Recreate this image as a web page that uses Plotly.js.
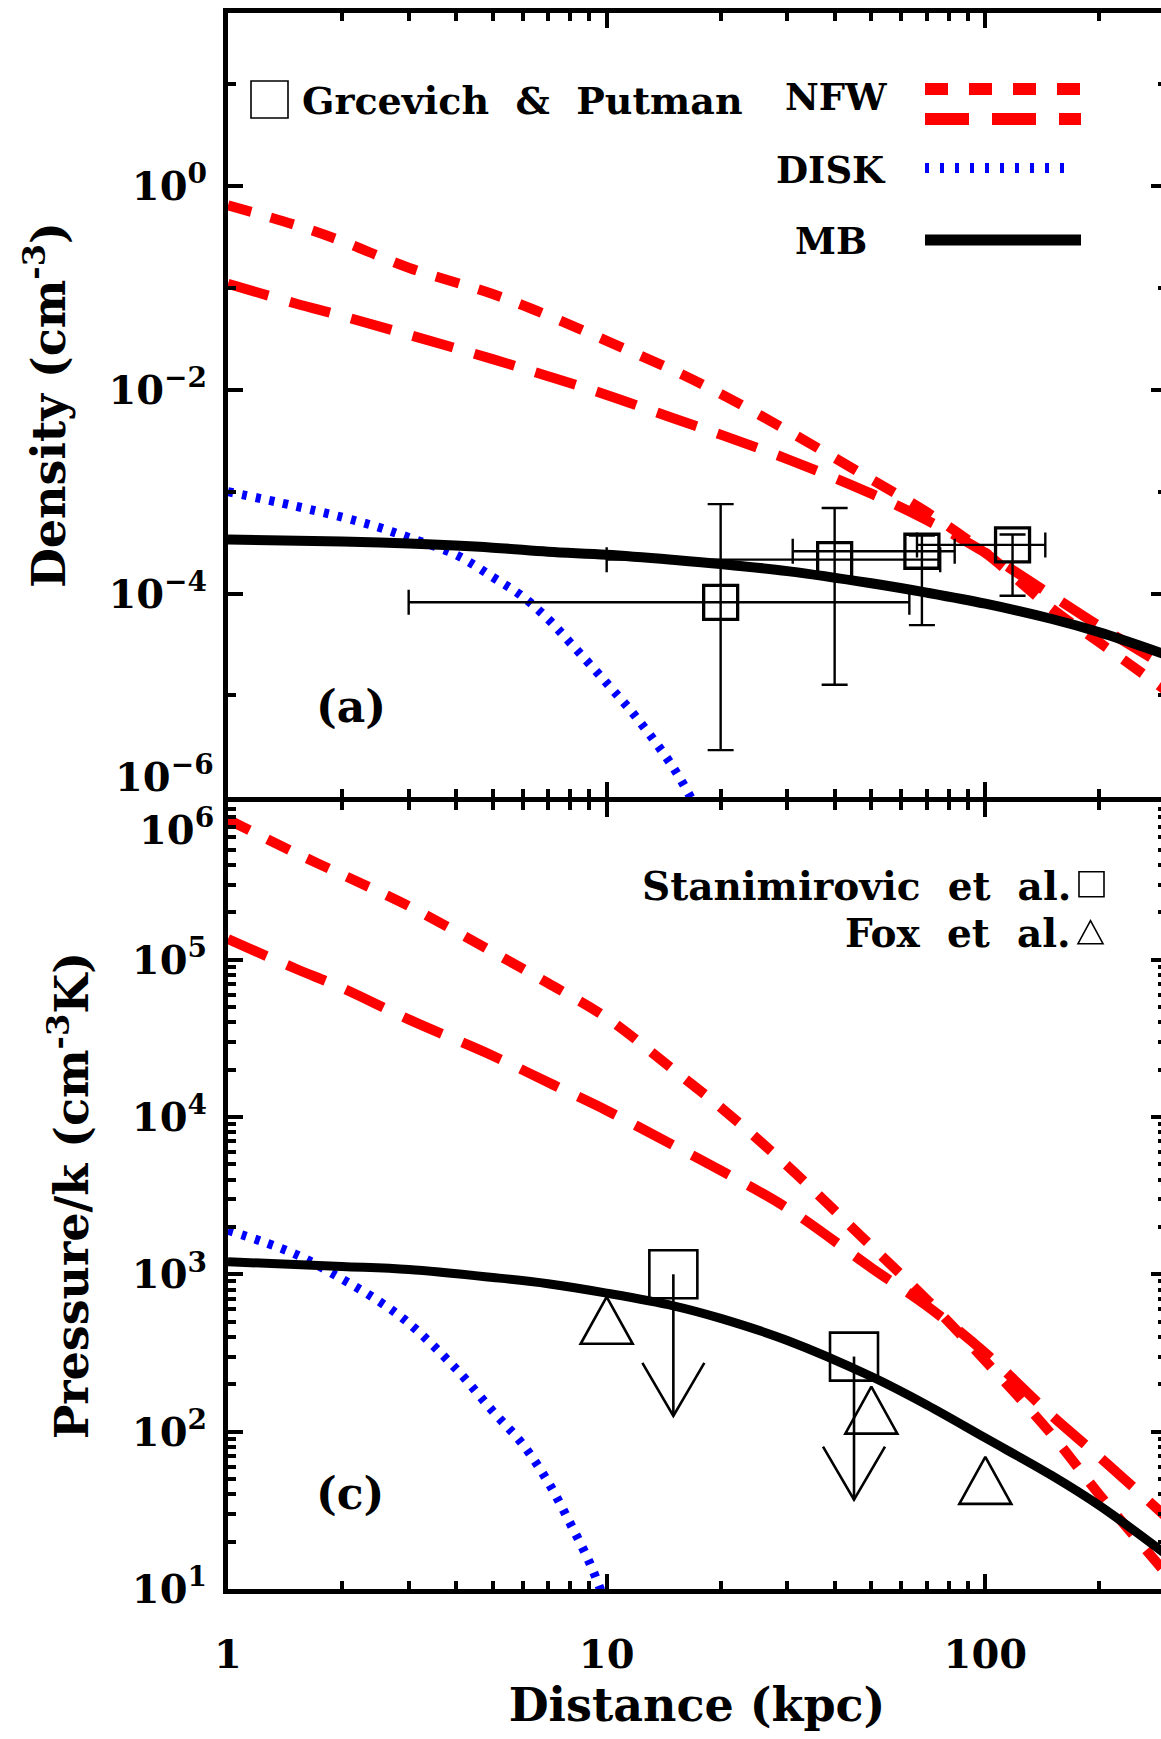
<!DOCTYPE html>
<html>
<head>
<meta charset="utf-8">
<script src="https://cdn.plot.ly/plotly-3.0.1.min.js"></script>
<style>
html, body { margin:0; padding:0; background:#ffffff; overflow:hidden; }
#chart { width:1170px; height:1739px; }
</style>
</head>
<body>
<div id="chart"></div>
<script>
// ================= DATA =================
// distance grid (kpc) used for the NFW model curves
const distNFW = [1, 1.5, 2, 3, 5, 7, 10, 15, 20, 30, 50, 70, 100, 150, 200, 300];
// panel (a): density (cm^-3)
const densNFW1 = [0.646, 0.417, 0.288, 0.158, 0.0871, 0.0537, 0.0302, 0.0155, 0.00912, 0.00398, 0.00132, 6.31e-4, 2.51e-4, 7.08e-5, 3.31e-5, 1.12e-5];
const densNFW2 = [0.110, 0.0708, 0.0531, 0.0347, 0.0200, 0.0136, 0.00891, 0.00525, 0.00363, 0.00209, 9.55e-4, 5.25e-4, 2.51e-4, 9.55e-5, 4.79e-5, 1.91e-5];
const distMB = [1, 2, 3, 5, 7, 10, 15, 20, 30, 50, 70, 100, 150, 200, 300];
const densMB = [3.39e-4, 3.24e-4, 3.09e-4, 2.82e-4, 2.57e-4, 2.40e-4, 2.14e-4, 1.95e-4, 1.66e-4, 1.26e-4, 1.02e-4, 7.94e-5, 5.62e-5, 4.17e-5, 2.51e-5];
const distDiskDens = [1, 1.5, 2, 2.5, 3, 4, 5, 6, 7, 8, 10, 12, 15, 17];
const densDisk = [1.0e-3, 7.24e-4, 5.62e-4, 4.47e-4, 3.55e-4, 2.40e-4, 1.45e-4, 9.33e-5, 5.62e-5, 3.31e-5, 1.32e-5, 6.03e-6, 1.95e-6, 8.7e-7];
// Grcevich & Putman observations
const gpDist = [20, 40, 68, 118];
const gpDistLow = [3, 10, 31, 66];
const gpDistHigh = [63, 76, 83, 144];
const gpDens = [8.2e-5, 2.15e-4, 2.6e-4, 3.0e-4];
const gpDensLow = [2.9e-6, 1.27e-5, 4.9e-5, 9.5e-5];
const gpDensHigh = [7.55e-4, 6.9e-4, 3.7e-4, 3.8e-4];

// panel (c): pressure/k (cm^-3 K)
const presNFW1 = [776000, 479000, 347000, 219000, 112000, 70800, 42700, 19950, 11500, 4900, 1510, 692, 282, 95.5, 39.8, 12.6];
const presNFW2 = [135000, 88100, 66100, 41700, 24500, 16600, 11000, 6610, 4570, 2630, 1100, 631, 316, 126, 69.2, 28.8];
const presMB = [1202, 1122, 1072, 955, 871, 759, 631, 525, 380, 224, 148, 91.2, 52.5, 33.9, 16.6];
const distDiskPres = [1, 1.5, 2, 2.5, 3, 4, 5, 6, 7, 8, 9, 9.7];
const presDisk = [1905, 1349, 933, 676, 490, 251, 135, 83.2, 47.9, 26.3, 14.8, 9.5];
// Stanimirovic et al. (upper limits) and Fox et al.
const stanDist = [15, 45];
const stanPres = [1000, 300];
const stanArrowTip = [126, 37];
const foxDist = [10, 50, 100];
const foxPres = [510, 137, 49];

// tick labels
const xTickVals = [1, 10, 100];
const xTickText = ['1', '10', '100'];
const densTickVals = [1e-6, 1e-4, 1e-2, 1];
const densTickText = ['', '10<sup>−4</sup>', '10<sup>−2</sup>', '10<sup>0</sup>'];
const densBottomLabel = '10<sup>−6</sup>';
const densMinorVals = [1e-5, 1e-3, 1e-1, 10];
const presTickVals = [10, 100, 1000, 1e4, 1e5, 1e6];
const presTickText = ['10<sup>1</sup>', '10<sup>2</sup>', '10<sup>3</sup>', '10<sup>4</sup>', '10<sup>5</sup>', ''];
const presTopLabel = '10<sup>6</sup>';

// ================= LAYOUT GEOMETRY =================
const W = 1170, H = 1739;
const ML = 228, MR = 4, MT = 13, MB = 149.5;
const PW = W - ML - MR, PH = H - MT - MB;
const fx = px => (px - ML) / PW;
const fy = py => (H - MB - py) / PH;

// minor tick positions for log axes (2..9 per decade)
function logMinors(d0, d1, maxV) {
  const out = [];
  for (let d = d0; d < d1; d++) for (let k = 2; k <= 9; k++) { const v = k * Math.pow(10, d); if (v <= maxV) out.push(v); }
  return out;
}
const xMinor = logMinors(0, 3, 300);
const presMinor = logMinors(1, 6, 1e6);

const FONT = 'DejaVu Serif, Liberation Serif, serif';
const RED = '#ff0000', BLUE = '#0000ff';
const NB = '\u00a0';

const tickCommon = {
  showline: true, linewidth: 5, linecolor: 'black', mirror: 'ticks',
  ticks: 'inside', ticklen: 15, tickwidth: 4, tickcolor: 'black',
  showgrid: false, zeroline: false,
};
const minorCommon = { ticks: 'inside', ticklen: 8, tickwidth: 4, tickcolor: 'black', showgrid: false };

const xRange = [0, Math.log10(300)];

const data = [
  // ---- panel (a) ----
  { x: distNFW, y: densNFW1, xaxis: 'x', yaxis: 'y', mode: 'lines', line: { color: RED, width: 10, dash: '24px,20px', shape: 'spline' } },
  { x: distNFW, y: densNFW2, xaxis: 'x', yaxis: 'y', mode: 'lines', line: { color: RED, width: 10, dash: '42px,22px', shape: 'spline' } },
  { x: distDiskDens, y: densDisk, xaxis: 'x', yaxis: 'y', mode: 'lines', line: { color: BLUE, width: 9, dash: '5px,9px', shape: 'spline' } },
  { x: distMB, y: densMB, xaxis: 'x', yaxis: 'y', mode: 'lines', line: { color: 'black', width: 10, shape: 'spline' } },
  { x: gpDist, y: gpDens, xaxis: 'x', yaxis: 'y', mode: 'markers',
    marker: { symbol: 'square-open', size: 34, color: 'black', line: { width: 3.3, color: 'black' } },
    error_x: { type: 'data', symmetric: false, array: gpDistHigh.map((v, i) => v - gpDist[i]), arrayminus: gpDist.map((v, i) => v - gpDistLow[i]), color: 'black', thickness: 2.4, width: 12.5 },
    error_y: { type: 'data', symmetric: false, array: gpDensHigh.map((v, i) => v - gpDens[i]), arrayminus: gpDens.map((v, i) => v - gpDensLow[i]), color: 'black', thickness: 2.4, width: 13 } },
  // ---- panel (c) ----
  { x: distNFW, y: presNFW1, xaxis: 'x2', yaxis: 'y2', mode: 'lines', line: { color: RED, width: 10, dash: '24px,20px', shape: 'spline' } },
  { x: distNFW, y: presNFW2, xaxis: 'x2', yaxis: 'y2', mode: 'lines', line: { color: RED, width: 10, dash: '42px,22px', shape: 'spline' } },
  { x: distDiskPres, y: presDisk, xaxis: 'x2', yaxis: 'y2', mode: 'lines', line: { color: BLUE, width: 9, dash: '5px,9px', shape: 'spline' } },
  { x: distMB, y: presMB, xaxis: 'x2', yaxis: 'y2', mode: 'lines', line: { color: 'black', width: 9, shape: 'spline' } },
  { x: stanDist, y: stanPres, xaxis: 'x2', yaxis: 'y2', mode: 'markers',
    marker: { symbol: 'square-open', size: 48, color: 'black', line: { width: 2.6, color: 'black' } },
    error_y: { type: 'data', symmetric: false, array: stanPres.map(() => 0), arrayminus: stanPres.map((v, i) => v - stanArrowTip[i]), color: 'black', thickness: 2.6, width: 0 } },
  { uid: 'arrowheads', x: stanDist, y: stanArrowTip, xaxis: 'x2', yaxis: 'y2', mode: 'markers',
    marker: { symbol: 'y-down', size: 40, color: 'black', line: { width: 2.6, color: 'black' } } },
  { uid: 'foxtri', x: foxDist, y: foxPres, xaxis: 'x2', yaxis: 'y2', mode: 'markers',
    marker: { symbol: 'triangle-up-open', size: 44, color: 'black', line: { width: 2.6, color: 'black' } } },
];

const topLow = fy(797.5), botHigh = fy(802.5);

const layout = {
  width: W, height: H,
  margin: { l: ML, r: MR, t: MT, b: MB, pad: 0 },
  paper_bgcolor: 'white', plot_bgcolor: 'white',
  showlegend: false,
  font: { family: FONT, size: 40, color: 'black', weight: 'bold' },
  xaxis: Object.assign({}, tickCommon, {
    type: 'log', range: xRange, anchor: 'y', showticklabels: false,
    tickmode: 'array', tickvals: xTickVals, ticktext: xTickText,
    minor: Object.assign({ tickvals: xMinor }, minorCommon),
  }),
  xaxis2: Object.assign({}, tickCommon, {
    type: 'log', range: xRange, anchor: 'y2',
    tickmode: 'array', tickvals: xTickVals, ticktext: xTickText,
    minor: Object.assign({ tickvals: xMinor }, minorCommon),
    tickfont: { family: FONT, size: 40, weight: 'bold' },
    ticklabelstandoff: 26,
    title: { text: 'Distance (kpc)', font: { family: FONT, size: 46, weight: 'bold' }, standoff: 14 },
  }),
  yaxis: Object.assign({}, tickCommon, {
    type: 'log', domain: [topLow, 1], range: [-6, Math.log10(50)], anchor: 'x',
    tickmode: 'array', tickvals: densTickVals, ticktext: densTickText,
    minor: Object.assign({ tickvals: densMinorVals }, minorCommon),
    tickfont: { family: FONT, size: 40, weight: 'bold' },
    ticklabelstandoff: 8,
    title: { text: 'Density (cm<sup>-3</sup>)', font: { family: FONT, size: 46, weight: 'bold' }, standoff: 30 },
  }),
  yaxis2: Object.assign({}, tickCommon, {
    type: 'log', domain: [0, botHigh], range: [1, 6], anchor: 'x2',
    tickmode: 'array', tickvals: presTickVals, ticktext: presTickText,
    minor: Object.assign({ tickvals: presMinor }, minorCommon),
    tickfont: { family: FONT, size: 40, weight: 'bold' },
    ticklabelstandoff: 8,
    title: { text: 'Pressure/k (cm<sup>-3</sup>K)', font: { family: FONT, size: 46, weight: 'bold' }, standoff: 30 },
  }),
  annotations: [
    { text: densBottomLabel, xref: 'paper', yref: 'paper', x: fx(216), y: fy(774), xanchor: 'right', yanchor: 'middle', showarrow: false, font: { family: FONT, size: 40, weight: 'bold' } },
    { text: presTopLabel, xref: 'paper', yref: 'paper', x: fx(216), y: fy(827), xanchor: 'right', yanchor: 'middle', showarrow: false, font: { family: FONT, size: 40, weight: 'bold' } },
    { text: 'Grcevich' + NB + NB + '&' + NB + NB + 'Putman', xref: 'paper', yref: 'paper', x: fx(300), y: fy(101), xanchor: 'left', yanchor: 'middle', showarrow: false, font: { family: FONT, size: 38, weight: 'bold' } },
    { text: 'NFW', xref: 'paper', yref: 'paper', x: fx(836), y: fy(97), xanchor: 'center', yanchor: 'middle', showarrow: false, font: { family: FONT, size: 37, weight: 'bold' } },
    { text: 'DISK', xref: 'paper', yref: 'paper', x: fx(831), y: fy(170), xanchor: 'center', yanchor: 'middle', showarrow: false, font: { family: FONT, size: 37, weight: 'bold' } },
    { text: 'MB', xref: 'paper', yref: 'paper', x: fx(831), y: fy(241), xanchor: 'center', yanchor: 'middle', showarrow: false, font: { family: FONT, size: 37, weight: 'bold' } },
    { text: '(a)', xref: 'paper', yref: 'paper', x: fx(351), y: fy(707), xanchor: 'center', yanchor: 'middle', showarrow: false, font: { family: FONT, size: 44, weight: 'bold' } },
    { text: '(c)', xref: 'paper', yref: 'paper', x: fx(350), y: fy(1494), xanchor: 'center', yanchor: 'middle', showarrow: false, font: { family: FONT, size: 44, weight: 'bold' } },
    { text: 'Stanimirovic' + NB + NB + 'et' + NB + NB + 'al.', xref: 'paper', yref: 'paper', x: fx(1073), y: fy(886), xanchor: 'right', yanchor: 'middle', showarrow: false, font: { family: FONT, size: 39, weight: 'bold' } },
    { text: 'Fox' + NB + NB + 'et' + NB + NB + 'al.', xref: 'paper', yref: 'paper', x: fx(1073), y: fy(933), xanchor: 'right', yanchor: 'middle', showarrow: false, font: { family: FONT, size: 39, weight: 'bold' } },
  ],
  shapes: [
    { type: 'rect', xref: 'paper', yref: 'paper', x0: fx(251), x1: fx(288), y0: fy(81), y1: fy(118), line: { color: 'black', width: 1.6 } },
    { type: 'line', xref: 'paper', yref: 'paper', x0: fx(925), x1: fx(1081), y0: fy(89), y1: fy(89), line: { color: RED, width: 12, dash: '23px,21px' } },
    { type: 'line', xref: 'paper', yref: 'paper', x0: fx(925), x1: fx(1081), y0: fy(119), y1: fy(119), line: { color: RED, width: 12, dash: '44px,23px' } },
    { type: 'line', xref: 'paper', yref: 'paper', x0: fx(925), x1: fx(1075), y0: fy(168), y1: fy(168), line: { color: BLUE, width: 10, dash: '4px,11px' } },
    { type: 'line', xref: 'paper', yref: 'paper', x0: fx(925), x1: fx(1081), y0: fy(240), y1: fy(240), line: { color: 'black', width: 11 } },
    { type: 'rect', xref: 'paper', yref: 'paper', x0: fx(1079), x1: fx(1104), y0: fy(872), y1: fy(897), line: { color: 'black', width: 1.6 } },
    { type: 'path', xref: 'paper', yref: 'paper',
      path: 'M' + fx(1078) + ',' + fy(944) + ' L' + fx(1103) + ',' + fy(944) + ' L' + fx(1090.5) + ',' + fy(921) + ' Z',
      line: { color: 'black', width: 1.6 } },
  ],
};

function fixMarkers(gd) {
  gd.querySelectorAll('.tracearrowheads path.point').forEach(p => {
    p.setAttribute('d', 'M-31,-53L0,0L31,-53');
    p.style.fill = 'none';
  });
  gd.querySelectorAll('.tracefoxtri path.point').forEach(p => {
    p.setAttribute('d', 'M-26,23.5H26L0,-23.5Z');
    p.style.fill = 'none';
  });
}

const gd = document.getElementById('chart');
Plotly.newPlot(gd, data, layout, { staticPlot: true, displayModeBar: false }).then(g => {
  fixMarkers(g);
  g.on('plotly_afterplot', () => fixMarkers(g));
});
</script>
</body>
</html>
